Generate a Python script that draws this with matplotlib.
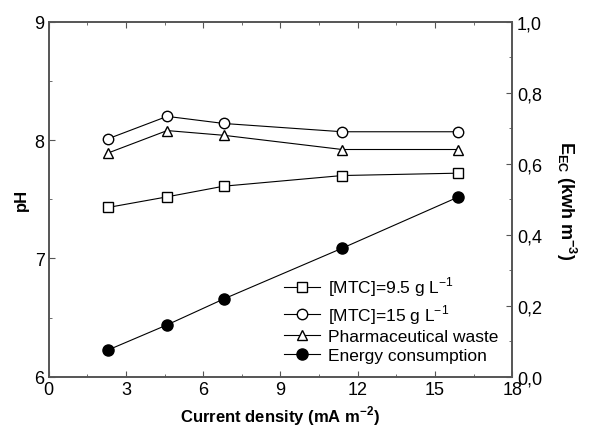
import matplotlib.pyplot as plt
from matplotlib.ticker import MultipleLocator

plt.rcParams['font.family'] = ['Liberation Sans', 'DejaVu Sans']
plt.rcParams['mathtext.fontset'] = 'custom'
plt.rcParams['mathtext.rm'] = 'Liberation Sans'
plt.rcParams['mathtext.bf'] = 'Liberation Sans:bold'

# data
current = [2.3, 4.6, 6.8, 11.4, 15.9]
ph_mtc_95 = [7.43, 7.52, 7.61, 7.70, 7.72]
ph_mtc_15 = [8.01, 8.20, 8.14, 8.07, 8.07]
ph_pharma = [7.89, 8.08, 8.04, 7.92, 7.92]
energy = [0.075, 0.146, 0.219, 0.362, 0.506]

fig = plt.figure(figsize=(5.95, 4.31), dpi=100)
ax = fig.add_axes([0.0818, 0.1237, 0.779, 0.8236])
ax2 = ax.twinx()

kw = dict(color='black', lw=0.8, ms=7.5, mew=1.0, mfc='white')
l1, = ax.plot(current, ph_mtc_95, marker='s', label='[MTC]=9.5 g L$^{-1}$', **kw)
l2, = ax.plot(current, ph_mtc_15, marker='o', label='[MTC]=15 g L$^{-1}$', **kw)
l3, = ax.plot(current, ph_pharma, marker='^', label='Pharmaceutical waste', **kw)
l4, = ax2.plot(current, energy, marker='o', color='black', lw=0.8, ms=8, mfc='black',
               label='Energy consumption')

ax.set_xlim(0, 18)
ax.set_ylim(6, 9)
ax2.set_ylim(0, 1.0)
ax.xaxis.set_major_locator(MultipleLocator(3))
ax.xaxis.set_minor_locator(MultipleLocator(1.5))
ax.yaxis.set_major_locator(MultipleLocator(1))
ax.yaxis.set_minor_locator(MultipleLocator(0.5))
ax2.yaxis.set_major_locator(MultipleLocator(0.2))
ax2.yaxis.set_minor_locator(MultipleLocator(0.1))
ax2.set_yticks([0, 0.2, 0.4, 0.6, 0.8, 1.0])
ax2.set_yticklabels(['0,0', '0,2', '0,4', '0,6', '0,8', '1,0'])

for a in (ax, ax2):
    for s in a.spines.values():
        s.set_color('#555555')
        s.set_linewidth(1.2)
ax.tick_params(axis='both', which='both', direction='in', top=True, labelsize=13,
               color='#555555', pad=3)
ax.tick_params(which='major', length=4)
ax.tick_params(which='minor', length=2.5)
ax2.tick_params(axis='y', which='both', direction='in', labelsize=13, color='#555555')
ax2.tick_params(which='major', length=4)
ax2.tick_params(which='minor', length=2.5)

ax.set_xlabel('Current density (mA m$^{\\mathbf{-2}}$)', fontweight='bold', fontsize=12)
ax.set_ylabel('pH', fontweight='bold', fontsize=12, labelpad=4)
ax2.set_ylabel('E$_{\\mathbf{EC}}$ (kwh m$^{\\mathbf{-3}}$)', fontweight='bold', fontsize=13,
               rotation=270, labelpad=26)

ax.legend(handles=[l1, l2, l3, l4], frameon=False, fontsize=12.5, loc='lower right',
          bbox_to_anchor=(1.0, 0.0), handlelength=2.1, handletextpad=0.45,
          labelspacing=0.2, borderaxespad=0.4)

fig.savefig('out.png', dpi=100)
